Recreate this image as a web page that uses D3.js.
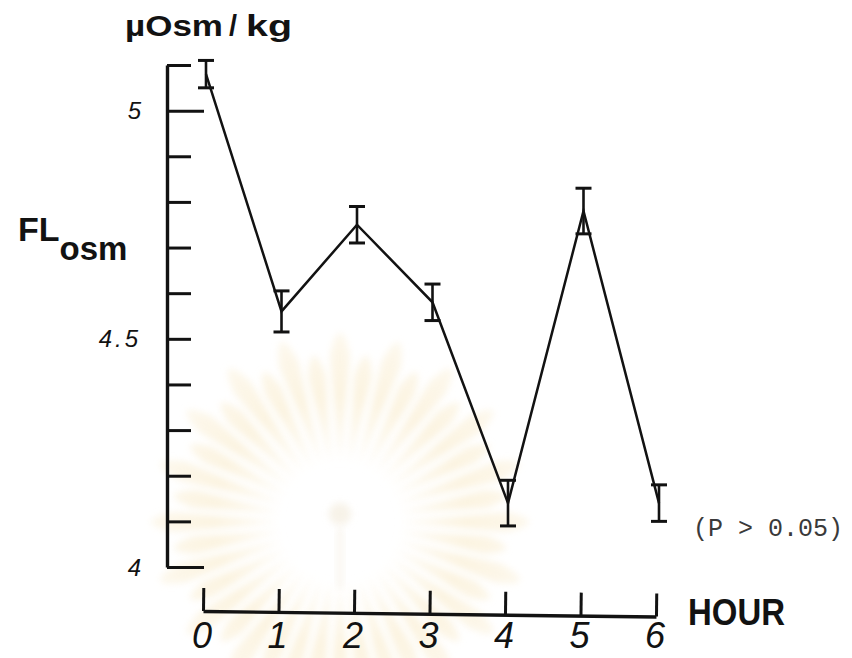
<!DOCTYPE html>
<html>
<head>
<meta charset="utf-8">
<script src="https://cdn.jsdelivr.net/npm/d3@7"></script>
<style>
  html, body { margin: 0; padding: 0; background: #ffffff; }
  svg { display: block; }
</style>
</head>
<body>
<svg id="chart" width="852" height="658"></svg>
<script>
// Hourly fluid osmolality (mean ± SE), µOsm/kg
const hours = [0, 1, 2, 3, 4, 5, 6];
const meanOsm = [5.08, 4.56, 4.75, 4.58, 4.14, 4.78, 4.14];
const seOsm = [0.03, 0.045, 0.04, 0.04, 0.05, 0.05, 0.04];

// Axis ticks and labels
const yTickValues = [4.0, 4.1, 4.2, 4.3, 4.4, 4.5, 4.6, 4.7, 4.8, 4.9, 5.0, 5.1];
const yMajorTicks = [4.0, 5.0];
const yLabelValues = [4, 4.5, 5];
const yLabelText = ["4", "4.5", "5"];
const xTickLabels = ["0", "1", "2", "3", "4", "5", "6"];

const svg = d3.select("#chart");
const ink = "#121212";

// ---- faint seal in the background ----
const seal = svg.append("g").attr("transform", "translate(340,522)");
const defs = svg.append("defs");
defs.append("filter").attr("id", "soft")
  .attr("x", "-50%").attr("y", "-50%").attr("width", "200%").attr("height", "200%")
  .append("feGaussianBlur").attr("stdDeviation", 3.5);
const grad = defs.append("radialGradient").attr("id", "rayFill")
  .attr("gradientUnits", "userSpaceOnUse").attr("cx", 0).attr("cy", 0).attr("r", 210);
grad.append("stop").attr("offset", "0.26").attr("stop-color", "#fdf7e9");
grad.append("stop").attr("offset", "0.6").attr("stop-color", "#f8e8c2");
grad.append("stop").attr("offset", "1").attr("stop-color", "#fcf4e2");

const rayCount = 40;
const rays = d3.range(rayCount);
seal.append("g").attr("filter", "url(#soft)").attr("opacity", 0.5)
  .selectAll("path").data(rays).join("path")
  .attr("fill", "url(#rayFill)")
  .attr("d", i => {
    const a = (i / rayCount) * 2 * Math.PI;
    const r0 = 58, r1 = i % 2 ? 185 : 208;
    const half = 0.06;
    const p = (r, t) => [r * Math.cos(a + t), r * Math.sin(a + t)];
    const [x0, y0] = p(r0, 0), [xa, ya] = p(r1 * 0.8, half),
          [x1, y1] = p(r1, 0), [xb, yb] = p(r1 * 0.8, -half);
    return `M${x0},${y0} L${xa},${ya} Q${x1 * 1.02},${y1 * 1.02} ${xb},${yb} Z`;
  });
seal.append("circle").attr("cx", 0).attr("cy", -8).attr("r", 11)
  .attr("fill", "#f1e8d6").attr("opacity", 0.55).attr("filter", "url(#soft)");
seal.append("rect").attr("x", -3).attr("y", 6).attr("width", 6).attr("height", 60)
  .attr("fill", "#f4ede0").attr("opacity", 0.55).attr("filter", "url(#soft)");

// ---- scales ----
const x = d3.scaleLinear().domain([0, 6]).range([206, 659]);
const y = d3.scaleLinear().domain([4.0, 5.1]).range([567, 65]);
const yAxisX = 167;

// ---- y axis (ticks point to the right of the spine) ----
const yAxis = svg.append("g")
  .attr("transform", `translate(${yAxisX},0)`)
  .call(d3.axisRight(y).tickValues(yTickValues).tickSize(24).tickSizeOuter(0).tickFormat(""));
yAxis.select(".domain").attr("stroke", ink).attr("stroke-width", 3.4);
yAxis.selectAll(".tick line").attr("stroke", ink).attr("stroke-width", 3)
  .attr("x2", d => yMajorTicks.some(v => Math.abs(v - d) < 1e-9) ? 37 : 24);

svg.append("g").selectAll("text").data(yLabelValues).join("text")
  .attr("x", yAxisX - 26)
  .attr("y", d => y(d))
  .attr("dy", "0.36em")
  .attr("text-anchor", "end")
  .attr("font-family", "Liberation Sans, Arial, sans-serif")
  .attr("font-style", "italic")
  .attr("font-size", 24)
  .attr("letter-spacing", (d, i) => yLabelText[i].length > 1 ? 3 : 0)
  .attr("fill", ink)
  .text((d, i) => yLabelText[i]);

// ---- x axis (ticks point up from the baseline) ----
const xAxisY = 611;
const xAxis = svg.append("g")
  .attr("transform", `translate(-3,${xAxisY}) rotate(0.7,206,0)`)
  .call(d3.axisTop(x).tickValues(hours).tickSize(23).tickSizeOuter(0).tickFormat(""));
xAxis.select(".domain").attr("stroke", ink).attr("stroke-width", 3.4);
xAxis.selectAll(".tick line").attr("stroke", ink).attr("stroke-width", 3);

svg.append("g").selectAll("text").data(hours).join("text")
  .attr("x", d => x(d) - 4)
  .attr("y", 648)
  .attr("text-anchor", "middle")
  .attr("font-family", "Liberation Sans, Arial, sans-serif")
  .attr("font-style", "italic")
  .attr("font-size", 36)
  .attr("fill", ink)
  .text((d, i) => xTickLabels[i]);

// ---- axis titles ----
const unit = svg.append("text")
  .attr("y", 36)
  .attr("font-family", "Liberation Sans, Arial, sans-serif")
  .attr("font-weight", "bold")
  .attr("font-size", 29)
  .attr("fill", ink);
unit.append("tspan").attr("x", 125).attr("textLength", 98)
  .attr("lengthAdjust", "spacingAndGlyphs").text("µOsm");
unit.append("tspan").attr("x", 229).text("/");
unit.append("tspan").attr("x", 246).attr("textLength", 46)
  .attr("lengthAdjust", "spacingAndGlyphs").text("kg");

const fl = svg.append("text")
  .attr("x", 18).attr("y", 241)
  .attr("font-family", "Liberation Sans, Arial, sans-serif")
  .attr("font-weight", "bold")
  .attr("fill", ink);
fl.append("tspan").attr("font-size", 34).text("FL");
fl.append("tspan").attr("font-size", 33).attr("dy", 19).text("osm");

svg.append("text")
  .attr("x", 688).attr("y", 625)
  .attr("font-family", "Liberation Sans, Arial, sans-serif")
  .attr("font-weight", "bold")
  .attr("font-size", 36)
  .attr("textLength", 97).attr("lengthAdjust", "spacingAndGlyphs")
  .attr("fill", ink)
  .text("HOUR");

svg.append("text")
  .attr("x", 693).attr("y", 536)
  .attr("font-family", "Liberation Mono, Courier New, monospace")
  .attr("font-size", 25)
  .attr("fill", "#3a3a3a")
  .text("(P > 0.05)");

// ---- error bars ----
const capW = 16;
const bars = svg.append("g").attr("stroke", ink).attr("stroke-linecap", "butt");
hours.forEach((h, i) => {
  const cx = x(h), hi = y(meanOsm[i] + seOsm[i]), lo = y(meanOsm[i] - seOsm[i]);
  bars.append("line").attr("x1", cx).attr("x2", cx).attr("y1", hi).attr("y2", lo)
    .attr("stroke-width", 2.6);
  [hi, lo].forEach(cy => bars.append("line")
    .attr("x1", cx - capW / 2).attr("x2", cx + capW / 2)
    .attr("y1", cy).attr("y2", cy).attr("stroke-width", 3));
});

// ---- mean line ----
const line = d3.line().x((d, i) => x(hours[i])).y(d => y(d));
svg.append("path")
  .datum(meanOsm)
  .attr("fill", "none")
  .attr("stroke", ink)
  .attr("stroke-width", 2.5)
  .attr("stroke-linejoin", "miter")
  .attr("d", line);
</script>
</body>
</html>
